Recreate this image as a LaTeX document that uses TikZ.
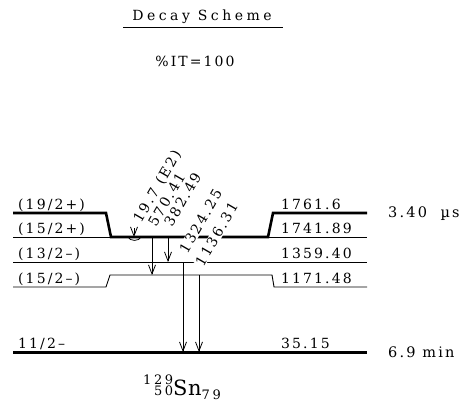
\documentclass[tikz,border=0pt]{standalone}
\usepackage{fontspec}
\setmainfont{DejaVu Serif}[LetterSpace=15]
\usetikzlibrary{arrows.meta}
\begin{document}
\begin{tikzpicture}[x=1pt,y=-1pt,
  thin/.style={line width=0.9pt},
  thick/.style={line width=2.6pt},
  ground/.style={line width=3pt},
  gam/.style={line width=0.8pt,-{Straight Barb[length=9pt,width=7pt,line width=0.8pt]}},
  lab/.style={font=\fontsize{14}{16}\selectfont, inner sep=0pt},
  llab/.style={lab, anchor=base west},
  hl/.style={font=\fontsize{14.5}{17}\selectfont, inner sep=0pt, anchor=west},
  glab/.style={lab, rotate=60, anchor=base west},
  cut/.style={fill=white, inner sep=0.6pt}]
\useasboundingbox (0,0) rectangle (470,401);

% title
\node[lab, anchor=base] (title) at (202,21) {\addfontfeatures{LetterSpace=25}Decay Scheme};
\draw[line width=0.8pt] (123,27) -- (283,27);
\node[lab, anchor=base] (it) at (195,67) {\%IT=100};

% levels
\draw[thin] (13,237) -- (367,237);
\draw[thin] (13,262) -- (367,262);
\draw[thin] (13,287) -- (106,287) -- (110,275) -- (272,275) -- (274,287) -- (367,287);
\draw[thick] (13,213) -- (106,213) -- (111,237) -- (268,237) -- (273,213) -- (367,213);
\draw[ground] (13,352) -- (367,352);

% level labels
\node[llab] (l1) at (18,209) {(19/2+)};
\node[llab] (l2) at (18,233) {(15/2+)};
\node[llab] (l3) at (18,258) {(13/2–)};
\node[llab] (l4) at (18,283) {(15/2–)};
\node[llab] (l5) at (18,348) {11/2–};
\node[llab] (e1) at (281,209) {1761.6};
\node[llab] (e2) at (281,233) {1741.89};
\node[llab] (e3) at (281,258) {1359.40};
\node[llab] (e4) at (281,283) {1171.48};
\node[llab] (e5) at (281,348) {35.15};

% half-lives
\node[hl] (t1) at (388,214) {3.40\ \ µs};
\node[hl] (t2) at (388,352) {6.9\ min};

% gammas
\coordinate (a1) at (134,228); \coordinate (b1) at (134,237);
\coordinate (a2) at (152,237); \coordinate (b2) at (152,275);
\coordinate (a3) at (168,237); \coordinate (b3) at (168,262);
\coordinate (a4) at (183,262); \coordinate (b4) at (183,352);
\coordinate (a5) at (199,275); \coordinate (b5) at (199,352);
\draw[gam] (a1) -- (b1);
\draw[line width=0.8pt] (128,237) .. controls (130,241.5) and (139,241.5) .. (141,237);
\draw[gam] (a2) -- (b2);
\draw[gam] (a3) -- (b3);
\draw[gam] (a4) -- (b4);
\draw[gam] (a5) -- (b5);

\node[glab] (g1) at (141,224) {19.7 (E2)};
\node[glab] (g2) at (156,228) {570.41};
\node[glab] (g3) at (172,228) {382.49};
\node[glab, cut] (g4) at (187,255) {1324.25};
\node[glab, cut] (g5) at (203,268) {1136.31};

% nucleus
\node[inner sep=0pt, anchor=base] (nuc) at (182,395) {{\fontsize{13}{13}\selectfont\addfontfeatures{LetterSpace=20}\begin{tabular}[b]{@{}r@{}}129\\[-3pt]50\end{tabular}}{\fontsize{21}{22}\selectfont\addfontfeatures{LetterSpace=3}Sn}{\fontsize{13}{13}\selectfont\addfontfeatures{LetterSpace=20}\raisebox{-4pt}{79}}};
\end{tikzpicture}
\end{document}
